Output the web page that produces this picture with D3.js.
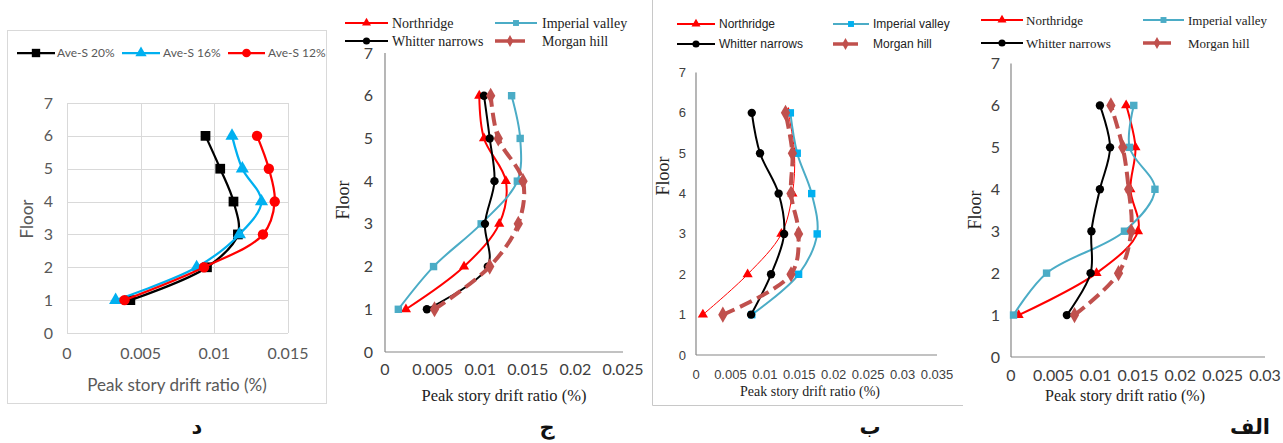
<!DOCTYPE html>
<html><head><meta charset="utf-8">
<script src="https://cdn.jsdelivr.net/npm/d3@7"></script>
<style>html,body{margin:0;padding:0;background:#fff;}svg{display:block;}</style>
</head><body>
<svg id="c" width="1283" height="443"></svg>
<script>
// ---------- DATA ----------
const floors = [1, 2, 3, 4, 5, 6];
const floorTicks = [0, 1, 2, 3, 4, 5, 6, 7];

// Panel د
const aveS20 = [0.0043, 0.0095, 0.0116, 0.0113, 0.0104, 0.0094];
const aveS16 = [0.0033, 0.0088, 0.0117, 0.0132, 0.0119, 0.0112];
const aveS12 = [0.0039, 0.0093, 0.0133, 0.0141, 0.0137, 0.0129];
const xTicksD = [0, 0.005, 0.01, 0.015];

// Panel ج
const jNorthridge = [0.0022, 0.0083, 0.0120, 0.0127, 0.0104, 0.0099];
const jWhitter    = [0.0044, 0.0108, 0.0105, 0.0115, 0.0110, 0.0104];
const jImperial   = [0.0014, 0.0051, 0.0101, 0.0139, 0.0142, 0.0133];
const jMorgan     = [0.0052, 0.0110, 0.0140, 0.0145, 0.0119, 0.0111];
const xTicksJ = [0, 0.005, 0.01, 0.015, 0.02, 0.025];

// Panel ب
const bNorthridge = [0.0010, 0.0075, 0.0124, 0.0140, 0.0143, 0.0134];
const bWhitter    = [0.0080, 0.0109, 0.0128, 0.0120, 0.0093, 0.0081];
const bImperial   = [0.0081, 0.0149, 0.0176, 0.0168, 0.0147, 0.0137];
const bMorgan     = [0.0039, 0.0138, 0.0149, 0.0138, 0.0140, 0.0130];
const xTicksB = [0, 0.005, 0.01, 0.015, 0.02, 0.025, 0.03, 0.035];

// Panel الف
const aNorthridge = [0.0009, 0.0101, 0.0150, 0.0141, 0.0147, 0.0136];
const aWhitter    = [0.0066, 0.0094, 0.0095, 0.0105, 0.0117, 0.0105];
const aImperial   = [0.0003, 0.0042, 0.0134, 0.0170, 0.0140, 0.0145];
const aMorgan     = [0.0075, 0.0127, 0.0142, 0.0139, 0.0132, 0.0118];
const xTicksA = [0, 0.005, 0.01, 0.015, 0.02, 0.025, 0.03];

const panelLabels = ["د", "ج", "ب", "الف"];
const xTitle = "Peak story drift ratio (%)";
const yTitle = "Floor";

// ---------- DRAW ----------
const svg = d3.select("#c");
const fmt = d => String(+d.toFixed(3));
const SERIF = "'Liberation Serif','Times New Roman',serif";
const CAL = "Lato,'Open Sans',sans-serif";
const NARROW = "'Liberation Sans Narrow','Liberation Sans',Arial,sans-serif";

function sym(type, size) { return d3.symbol().type(type).size(size)(); }

function drawSeries(g, x, y, s) {
  const pts = floors.map((f, i) => [x(s.values[i]), y(f)]);
  g.append("path").attr("d", d3.line().curve(d3.curveCatmullRom.alpha(0.5))(pts))
    .attr("fill", "none").attr("stroke", s.color).attr("stroke-width", s.width)
    .attr("stroke-dasharray", s.dash || null).attr("stroke-linejoin", "round");
  g.selectAll(null).data(pts).join("path")
    .attr("transform", p => `translate(${p[0]},${p[1]})`)
    .attr("d", sym(s.symbol, s.size))
    .attr("fill", s.mcolor || s.color);
}

function legendItem(g, s, x0, x1, yy, tx, font, fsize, fcolor) {
  g.append("line").attr("x1", x0).attr("x2", x1).attr("y1", yy).attr("y2", yy)
    .attr("stroke", s.color).attr("stroke-width", s.lwidth || s.width);
  g.append("path").attr("transform", `translate(${(x0 + x1) / 2},${yy})`)
    .attr("d", sym(s.symbol, s.lsize || s.size)).attr("fill", s.mcolor || s.color);
  g.append("text").attr("x", tx).attr("y", yy).attr("dy", "0.35em")
    .attr("font-family", font).attr("font-size", fsize).attr("fill", fcolor).text(s.name);
}

// ---- Panel د (Excel-style with box and gridlines) ----
(function () {
  const g = svg.append("g");
  g.append("rect").attr("x", 7.5).attr("y", 30.5).attr("width", 319).attr("height", 373)
    .attr("fill", "none").attr("stroke", "#d9d9d9");
  const x = d3.scaleLinear().domain([0, 0.015]).range([67, 288]);
  const y = d3.scaleLinear().domain([0, 7]).range([333, 103]);
  floorTicks.forEach(t => g.append("line").attr("x1", 67).attr("x2", 288)
    .attr("y1", Math.round(y(t)) + 0.5).attr("y2", Math.round(y(t)) + 0.5).attr("stroke", "#d9d9d9"));
  xTicksD.forEach(t => g.append("line").attr("y1", 103).attr("y2", 333)
    .attr("x1", Math.round(x(t)) + 0.5).attr("x2", Math.round(x(t)) + 0.5).attr("stroke", "#d9d9d9"));
  g.selectAll(null).data(floorTicks).join("text").attr("x", 53).attr("y", d => y(d)).attr("dy", "0.35em")
    .attr("text-anchor", "end").attr("font-family", CAL).attr("font-size", 16).attr("fill", "#595959").text(d => d);
  g.selectAll(null).data(xTicksD).join("text").attr("x", d => x(d)).attr("y", 353).attr("dy", "0.35em")
    .attr("text-anchor", "middle").attr("font-family", CAL).attr("font-size", 16).attr("fill", "#595959").text(fmt);
  g.append("text").attr("x", 177).attr("y", 385).attr("dy", "0.35em").attr("text-anchor", "middle")
    .attr("font-family", CAL).attr("font-size", 17).attr("fill", "#595959").text(xTitle);
  g.append("text").attr("transform", "translate(27,219) rotate(-90)").attr("dy", "0.35em").attr("text-anchor", "middle")
    .attr("font-family", CAL).attr("font-size", 17).attr("fill", "#595959").text(yTitle);
  const series = [
    { name: "Ave-S 20%", values: aveS20, color: "#000000", width: 2.25, symbol: d3.symbolSquare, size: 95, lsize: 70 },
    { name: "Ave-S 16%", values: aveS16, color: "#00B0F0", width: 2.25, symbol: d3.symbolTriangle, size: 75, lsize: 55 },
    { name: "Ave-S 12%", values: aveS12, color: "#FF0000", width: 2.25, symbol: d3.symbolCircle, size: 85, lsize: 60 }
  ];
  series.forEach(s => drawSeries(g, x, y, s));
  const lx = [[17, 55, 57], [122, 160, 163], [228, 265, 268]];
  series.forEach((s, i) => legendItem(g, s, lx[i][0], lx[i][1], 53, lx[i][2], CAL, 12, "#595959"));
})();

// ---- generic panels ج ب الف ----
function drawPanel(cfg) {
  const g = svg.append("g");
  const x = d3.scaleLinear().domain([0, cfg.xmax]).range([cfg.x0, cfg.x1]);
  const y = d3.scaleLinear().domain([0, 7]).range([cfg.y0, cfg.y7]);
  g.append("line").attr("x1", cfg.x0).attr("x2", cfg.x0).attr("y1", cfg.y7).attr("y2", cfg.y0).attr("stroke", "#868686").attr("stroke-width", 1.2);
  g.append("line").attr("x1", cfg.x0).attr("x2", cfg.x1).attr("y1", cfg.y0).attr("y2", cfg.y0).attr("stroke", "#868686").attr("stroke-width", 1.2);
  g.selectAll(null).data(floorTicks).join("text").attr("x", cfg.ylabX).attr("y", d => y(d)).attr("dy", "0.35em")
    .attr("text-anchor", "end").attr("font-family", cfg.tickFont).attr("font-size", cfg.tickSize).attr("fill", "#404040").text(d => d);
  g.selectAll(null).data(cfg.xticks).join("text").attr("x", d => x(d)).attr("y", cfg.xlabY).attr("dy", "0.35em")
    .attr("text-anchor", "middle").attr("font-family", cfg.tickFont).attr("font-size", cfg.tickSize).attr("fill", "#404040").text(fmt);
  g.append("text").attr("x", cfg.titleX).attr("y", cfg.titleY).attr("dy", "0.35em").attr("text-anchor", "middle")
    .attr("font-family", SERIF).attr("font-size", cfg.titleSize).attr("fill", "#222").text(xTitle);
  g.append("text").attr("transform", `translate(${cfg.floorX},${cfg.floorY}) rotate(-90)`).attr("dy", "0.35em")
    .attr("text-anchor", "middle").attr("font-family", SERIF).attr("font-size", 18).attr("fill", "#222").text(yTitle);
  const [nr, wn, iv, mh] = cfg.series;
  const S = {
    nr: { name: "Northridge", values: nr, color: "#FF0000", width: cfg.nrWidth, lwidth: 2, symbol: d3.symbolTriangle, size: 45, lsize: 35 },
    wn: { name: "Whitter narrows", values: wn, color: "#000000", width: 2, symbol: d3.symbolCircle, size: 55, lsize: 40 },
    iv: { name: "Imperial valley", values: iv, color: "#4BACC6", mcolor: cfg.ivMarker, width: 2, symbol: d3.symbolSquare, size: 55, lsize: 35 },
    mh: { name: "Morgan hill", values: mh, color: "#C0504D", width: 4, lwidth: 3.5, dash: "13,6", symbol: d3.symbolDiamond, size: 75, lsize: 40 }
  };
  [S.nr, S.iv, S.wn, S.mh].forEach(s => drawSeries(g, x, y, s));
  const L = cfg.legend;
  legendItem(g, S.nr, L.ax0, L.ax1, L.r1, L.atx, cfg.legFont, cfg.legSize, "#222");
  legendItem(g, S.iv, L.bx0, L.bx1, L.r1, L.btx, cfg.legFont, cfg.legSize, "#222");
  legendItem(g, S.wn, L.ax0, L.ax1, L.r2, L.atx, cfg.legFont, cfg.legSize, "#222");
  legendItem(g, S.mh, L.bx0, L.mx1, L.r2, L.btx, cfg.legFont, cfg.legSize, "#222");
  return g;
}

// Panel ج
drawPanel({
  xmax: 0.025, x0: 385, x1: 623, y0: 352, y7: 53, xticks: xTicksJ,
  ylabX: 373, xlabY: 369, tickFont: CAL, tickSize: 16, titleSize: 16.5,
  titleX: 504, titleY: 395, floorX: 343, floorY: 200,
  series: [jNorthridge, jWhitter, jImperial, jMorgan], ivMarker: "#4BACC6", nrWidth: 2,
  legFont: SERIF, legSize: 14,
  legend: { ax0: 345, ax1: 388, atx: 392, bx0: 495, bx1: 537, mx1: 525, btx: 542, r1: 23, r2: 41 }
});

// Panel ب
drawPanel({
  xmax: 0.035, x0: 696, x1: 937, y0: 355, y7: 72.5, xticks: xTicksB,
  ylabX: 686, xlabY: 374, tickFont: NARROW, tickSize: 13, titleSize: 14,
  titleX: 810, titleY: 391, floorX: 663, floorY: 176,
  series: [bNorthridge, bWhitter, bImperial, bMorgan], ivMarker: "#00B0F0", nrWidth: 1,
  legFont: NARROW, legSize: 12,
  legend: { ax0: 677, ax1: 715, atx: 719, bx0: 833, bx1: 869, mx1: 858, btx: 873, r1: 24, r2: 44 }
});
svg.append("path").attr("d", "M652.5,0 V405.5 H963").attr("fill", "none").attr("stroke", "#c8c8c8");

// Panel الف
drawPanel({
  xmax: 0.03, x0: 1011, x1: 1265, y0: 357, y7: 63.5, xticks: xTicksA,
  ylabX: 1000, xlabY: 375, tickFont: CAL, tickSize: 16, titleSize: 16,
  titleX: 1125, titleY: 395, floorX: 975, floorY: 210,
  series: [aNorthridge, aWhitter, aImperial, aMorgan], ivMarker: "#4BACC6", nrWidth: 2,
  legFont: SERIF, legSize: 13,
  legend: { ax0: 981, ax1: 1023, atx: 1026, bx0: 1143, bx1: 1184, mx1: 1171, btx: 1188, r1: 20, r2: 43 }
});

// Panel captions (Persian)
const capX = [197, 547, 870, 1250];
svg.selectAll(null).data(panelLabels).join("text")
  .attr("x", (d, i) => capX[i]).attr("y", 434).attr("text-anchor", "middle")
  .attr("font-family", "'DejaVu Sans','Noto Sans',sans-serif").attr("font-weight", "bold").attr("font-size", 21)
  .attr("fill", "#111").text(d => d);
</script>
</body></html>
